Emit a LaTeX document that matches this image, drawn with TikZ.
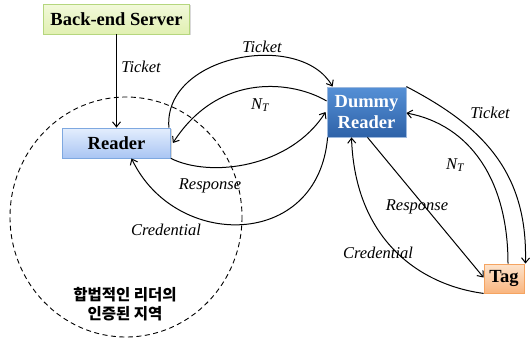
\documentclass[tikz,border=0pt]{standalone}
\usepackage{fontspec}
\setmainfont{Liberation Serif}
\newfontfamily\krfont{Noto Sans CJK KR}
\usetikzlibrary{arrows.meta,shadows}
\definecolor{srvtop}{HTML}{F2F9DA}
\definecolor{srvbot}{HTML}{E1F0B2}
\definecolor{srvline}{HTML}{B5D67E}
\definecolor{rdtop}{HTML}{E4EEFD}
\definecolor{rdbot}{HTML}{A9C5F3}
\definecolor{rdline}{HTML}{7EA8E0}
\definecolor{drtop}{HTML}{5590D6}
\definecolor{drbot}{HTML}{2E62A8}
\definecolor{drline}{HTML}{9DB9DE}
\definecolor{tagtop}{HTML}{FDE3CB}
\definecolor{tagbot}{HTML}{F9B57F}
\definecolor{tagline}{HTML}{F5A461}
\begin{document}
\begin{tikzpicture}[x=1pt,y=-1pt,
  box/.style={draw, line width=0.8pt, inner sep=0pt, align=center,
    font=\fontsize{18.5}{21}\selectfont\bfseries,
    drop shadow={shadow xshift=1.3pt, shadow yshift=-1.3pt, opacity=0.3}},
  conn/.style={line width=1pt, -{Straight Barb[length=5pt,width=8pt]}},
  lbl/.style={font=\fontsize{16.5}{18}\selectfont\itshape, inner sep=1pt}]
\useasboundingbox (0,0) rectangle (532,340);

% authenticated region of the legitimate reader
\draw[line width=0.9pt, dash pattern=on 5pt off 3.5pt] (126,217) ellipse [x radius=116, y radius=120];
\node[font=\krfont\fontsize{15.5}{19}\selectfont\bfseries, align=center] (zone) at (125,304) {합법적인 리더의\\인증된 지역};

% nodes
\node[box, top color=srvtop, bottom color=srvbot, draw=srvline, minimum width=146pt, minimum height=30pt] (srv) at (116.5,19) {Back-end Server};
\node[box, top color=rdtop, bottom color=rdbot, draw=rdline, minimum width=108pt, minimum height=30pt] (rd) at (116.5,143) {Reader};
\node[box, top color=drtop, bottom color=drbot, draw=drline, text=white, minimum width=79pt, minimum height=50pt] (dr) at (366.5,112) {Dummy\\Reader};
\node[box, top color=tagtop, bottom color=tagbot, draw=tagline, minimum width=40pt, minimum height=29pt] (tag) at (504,278.5) {Tag};

% server -> reader
\draw[conn] (srv) -- (rd);
\node[lbl] (l0) at (141,67) {Ticket};

% reader <-> dummy reader
\draw[conn] ([xshift=-2pt]rd.north east) .. controls (163,55) and (300,30) .. ([xshift=6pt]dr.north west);
\node[lbl] (l1) at (262,47) {Ticket};
\draw[conn] ([yshift=11pt]dr.west) .. controls (295,82) and (220,70) .. ([xshift=2pt]rd.east);
\node[lbl] (l2) at (260,105) {N\textsubscript{T}};
\draw[conn] (rd.south east) .. controls (210,178) and (290,168) .. ([xshift=-1pt]dr.west);
\node[lbl] (l3) at (210,186) {Response};
\draw[conn] ([xshift=1pt]dr.south west) .. controls (318,250) and (175,250) .. ([xshift=15pt]rd.south);
\node[lbl] (l4) at (166,230) {Credential};

% dummy reader <-> tag
\draw[conn] (dr.north east) .. controls (480,125) and (528,170) .. ([xshift=1pt]tag.north east);
\node[lbl] (l5) at (490,113) {Ticket};
\draw[conn] ([xshift=4pt]tag.north) .. controls (508,180) and (470,125) .. ([yshift=-1pt]dr.east);
\node[lbl] (l6) at (455,165) {N\textsubscript{T}};
\draw[conn] ([xshift=1pt]dr.south) -- ([yshift=1pt]tag.west);
\node[lbl] (l7) at (417,207) {Response};
\draw[conn] (tag.south west) .. controls (420,285) and (355,240) .. ([xshift=-15pt]dr.south);
\node[lbl] (l8) at (378,253) {Credential};
\end{tikzpicture}
\end{document}
